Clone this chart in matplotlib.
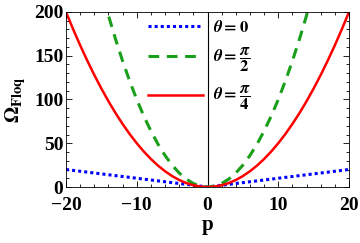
import numpy as np
import matplotlib.pyplot as plt
from matplotlib.ticker import MultipleLocator

# values (p in steps of 1)
p = list(range(-20, 21))
omega_0 = [20, 19, 18, 17, 16, 15, 14, 13, 12, 11, 10, 9, 8, 7, 6, 5, 4, 3, 2, 1, 0,
           1, 2, 3, 4, 5, 6, 7, 8, 9, 10, 11, 12, 13, 14, 15, 16, 17, 18, 19, 20]
omega_pi2 = [400, 361, 324, 289, 256, 225, 196, 169, 144, 121, 100, 81, 64, 49, 36, 25, 16, 9, 4, 1, 0,
             1, 4, 9, 16, 25, 36, 49, 64, 81, 100, 121, 144, 169, 196, 225, 256, 289, 324, 361, 400]
omega_pi4 = [200, 180.5, 162, 144.5, 128, 112.5, 98, 84.5, 72, 60.5, 50, 40.5, 32, 24.5, 18, 12.5, 8, 4.5, 2, 0.5, 0,
             0.5, 2, 4.5, 8, 12.5, 18, 24.5, 32, 40.5, 50, 60.5, 72, 84.5, 98, 112.5, 128, 144.5, 162, 180.5, 200]
labels = [r"$\theta=0$", r"$\theta=\dfrac{\pi}{2}$", r"$\theta=\dfrac{\pi}{4}$"]

plt.rcParams["font.family"] = "Liberation Serif"
plt.rcParams["font.weight"] = "bold"
plt.rcParams["mathtext.fontset"] = "stix"

fig = plt.figure(figsize=(3.6, 2.43), dpi=100)
ax = fig.add_axes([66 / 360, 1 - 187 / 243, (349 - 66) / 360, (187 - 12) / 243])

ax.axvline(0, color="black", lw=0.8, zorder=1)
ax.plot(p, omega_0, color="blue", lw=2.2, linestyle=(0, (1, 1)), label=labels[0])
ax.plot(p, omega_pi2, color="#1a9f1a", lw=2.2, linestyle=(0, (3.5, 2.5)), label=labels[1])
ax.plot(p, omega_pi4, color="red", lw=1.8, label=labels[2])

ax.set_xlim(-20, 20)
ax.set_ylim(0, 200)
ax.xaxis.set_major_locator(MultipleLocator(10))
ax.xaxis.set_minor_locator(MultipleLocator(2))
ax.yaxis.set_major_locator(MultipleLocator(50))
ax.yaxis.set_minor_locator(MultipleLocator(10))
ax.tick_params(which="both", direction="in", top=True, right=True, labelsize=14, width=0.6)
ax.tick_params(which="major", length=4)
ax.tick_params(which="minor", length=2)
ax.tick_params(axis="x", pad=7)
ax.tick_params(axis="y", pad=2)
for s in ax.spines.values():
    s.set_linewidth(0.6)

ax.set_xlabel("p", fontsize=15, fontweight="bold", labelpad=1)
ax.set_ylabel(r"$\mathbf{\Omega}_{\mathbf{Floq}}$", fontsize=15, labelpad=4)

leg = ax.legend(loc="upper left", bbox_to_anchor=(0.235, 1.04), frameon=False,
                fontsize=12, handlelength=3.3, handletextpad=0.6, labelspacing=0.6)

fig.savefig("out.png", dpi=100)
